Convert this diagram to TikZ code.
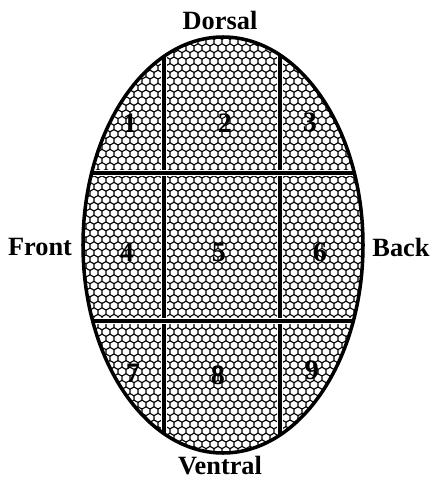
\documentclass[tikz,border=0pt]{standalone}
\usepackage{fontspec}
\setmainfont{Liberation Serif}
\usetikzlibrary{positioning}

\begin{document}
\begin{tikzpicture}[
	x=0.02cm, y=-0.02cm,
	rim/.style={line width=2pt},
	cut/.style={line width=2.3pt, preaction={draw=white, line width=3.6pt}},
	cell/.style={line width=0.65pt, line join=round},
	side/.style={font=\fontsize{15}{18}\selectfont\bfseries, inner sep=1pt},
	zone/.style={font=\fontsize{16}{18}\selectfont\bfseries, inner sep=0pt}
	]
	\useasboundingbox (0,0) rectangle (432,480);
	\coordinate (mid) at (223,245);

	% honeycomb and grid, cut to the outline
	\begin{scope}
		\clip (mid) ellipse [x radius=140, y radius=208];
		\foreach \k in {0,...,66} {
			\foreach \i in {0,...,36} {
				\pgfmathsetmacro\cx{78+8*\i+4*mod(\k,2)}
				\pgfmathsetmacro\cy{35+6.6*\k}
				\draw[cell] (\cx-4,\cy-2.2) -- (\cx,\cy-4.4) -- (\cx+4,\cy-2.2) -- (\cx+4,\cy+2.2);
			}
		}
		\draw[cut] (164,30) -- (164,460);
		\draw[cut] (280,30) -- (280,460);
		\draw[cut] (80,173) -- (366,173);
		\draw[cut] (80,321) -- (366,321);
	\end{scope}
	\draw[rim] (mid) ellipse [x radius=140, y radius=208];

	\node[zone] (z1) at (130,123) {1};
	\node[zone] (z2) at (225,123) {2};
	\node[zone] (z3) at (310,122) {3};
	\node[zone] (z4) at (127,252) {4};
	\node[zone] (z5) at (219,252) {5};
	\node[zone] (z6) at (320,252) {6};
	\node[zone] (z7) at (133,373) {7};
	\node[zone] (z8) at (218,375) {8};
	\node[zone] (z9) at (312,370) {9};

	\node[side] (dorsal) at (220,20) {Dorsal};
	\node[side] (ventral) at (220,466) {Ventral};
	\node[side] (front) at (40,247) {Front};
	\node[side] (back) at (401,247) {Back};
\end{tikzpicture}
\end{document}
